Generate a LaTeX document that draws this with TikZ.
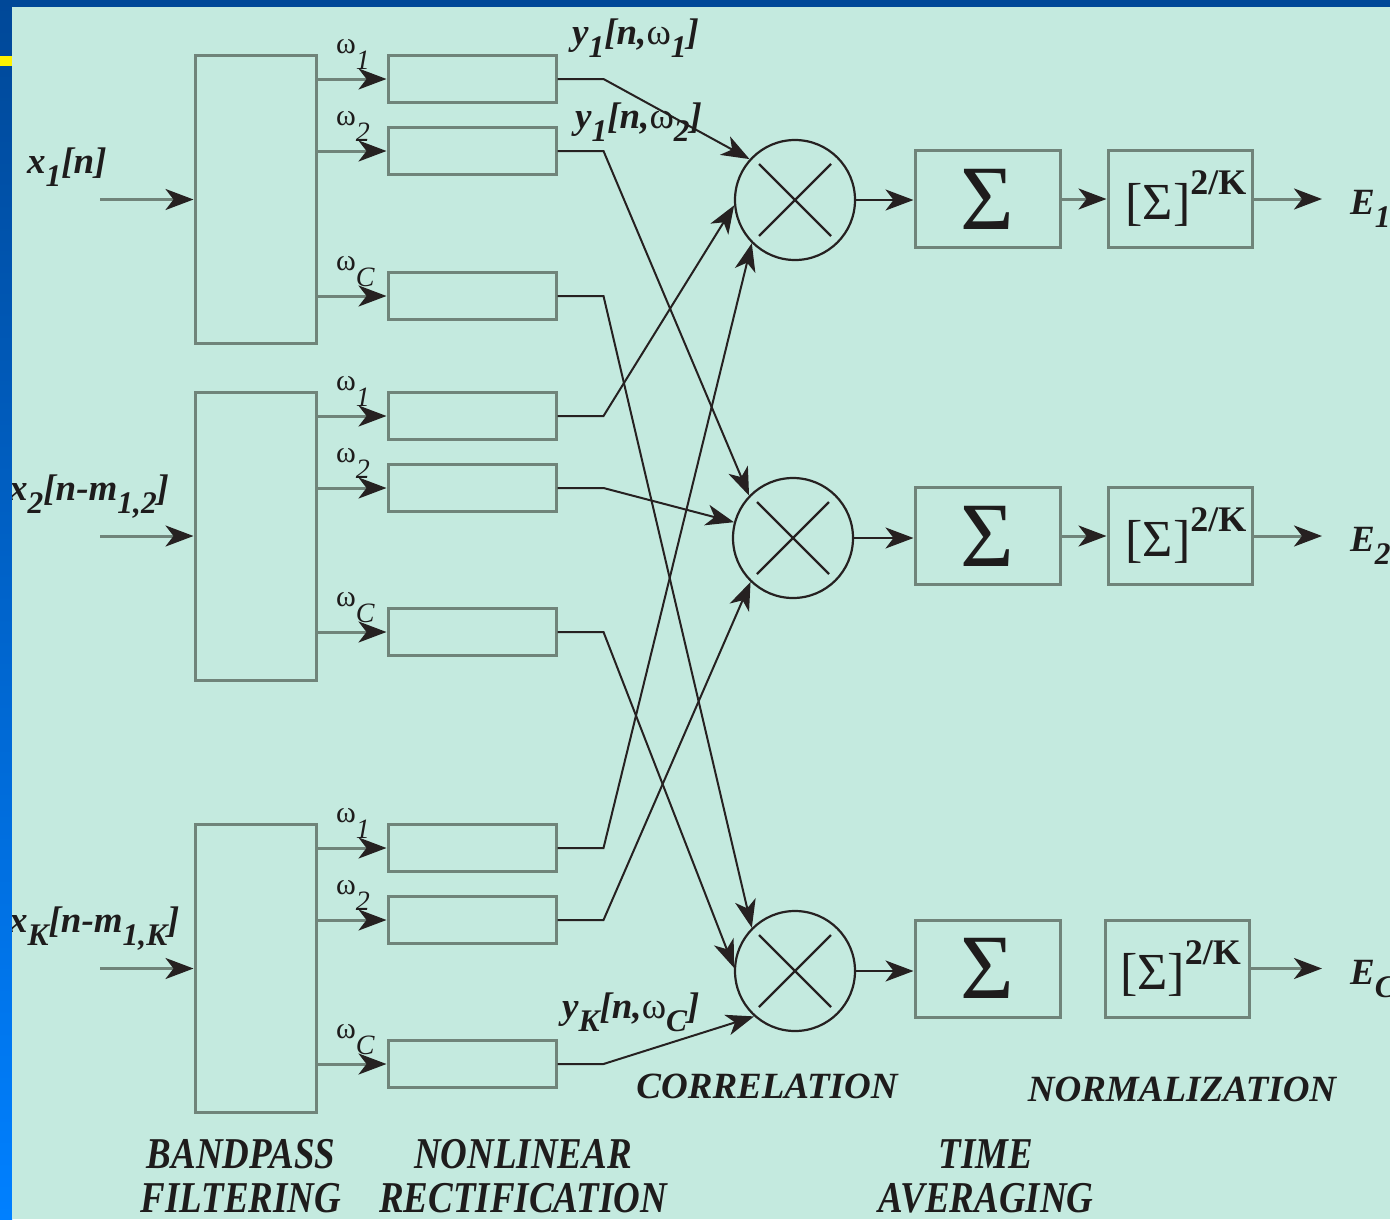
\documentclass[tikz,border=0pt]{standalone}
\usepackage{fontspec}
\setmainfont{Liberation Serif}
\usetikzlibrary{arrows.meta}
\definecolor{bg}{RGB}{196,234,223}
\definecolor{bx}{RGB}{112,132,122}
\definecolor{dk}{RGB}{38,33,33}
\definecolor{txt}{RGB}{30,28,28}
\definecolor{bluetop}{RGB}{0,72,152}
\definecolor{bluebot}{RGB}{0,128,255}
\definecolor{ybar}{RGB}{255,242,0}
\newcommand\lsub[1]{\raisebox{-0.36em}{\scalebox{0.85}{#1}}}
\newcommand\wsub[1]{\raisebox{-0.55em}{\fontsize{28}{28}\selectfont\itshape #1}}
\newcommand\omg{{\upshape\mdseries ω}}
\newcommand\condtxt[1]{\scalebox{0.84}[1]{#1}}
\begin{document}
\begin{tikzpicture}[x=1pt,y=-1pt,
  bank/.style={draw=bx, line width=3pt, minimum width=121pt, minimum height=288pt, inner sep=0pt},
  rectbox/.style={draw=bx, line width=3pt, minimum width=168pt, minimum height=47pt, inner sep=0pt},
  mult/.style={circle, draw=dk, line width=2.2pt, minimum size=120pt, inner sep=0pt,
    path picture={\draw[dk,line width=2.2pt] (path picture bounding box.center) +(-36pt,-36pt) -- +(36pt,36pt)
      (path picture bounding box.center) +(-36pt,36pt) -- +(36pt,-36pt);}},
  sumbox/.style={draw=bx, line width=3pt, minimum width=145pt, minimum height=97pt, inner sep=0pt,
    text=txt, font=\fontsize{92}{92}\selectfont},
  normbox/.style={draw=bx, line width=3pt, minimum width=144pt, minimum height=97pt, inner sep=0pt,
    text=txt, font=\fontsize{52}{52}\selectfont},
  garrow/.style={draw=bx, line width=3pt, -{Stealth[length=28pt,width=21pt,inset=8pt,color=dk]}},
  darrow/.style={draw=dk, line width=2.2pt, -{Stealth[length=28pt,width=21pt,inset=8pt,color=dk]}},
  conn/.style={draw=dk, line width=2pt, -{Stealth[length=28pt,width=21pt,inset=8pt,color=dk]}},
  lab/.style={inner sep=0pt, text=txt, font=\fontsize{37}{37}\selectfont\bfseries\itshape},
  wlab/.style={inner sep=0pt, text=txt, font=\fontsize{30}{30}\selectfont},
  capt/.style={inner sep=0pt, text=txt, anchor=base, font=\fontsize{37}{37}\selectfont\bfseries\itshape},
  capt2/.style={inner sep=0pt, text=txt, anchor=base, align=center, font=\fontsize{44}{44}\selectfont\bfseries\itshape}
]
\useasboundingbox (0,0) rectangle (1390,1219);
% frame
\shade[top color=bluetop, bottom color=bluebot] (0,0) rectangle (12,1219);
\fill[bluetop] (0,0) rectangle (1390,7);
\fill[fill=ybar] (0,56) rectangle (12,66);
\fill[bg] (12,7) rectangle (1390,1219);

% filter banks
\node[bank] (B1) at (255.5,199.5) {};
\node[bank] (B2) at (255.5,536) {};
\node[bank] (B3) at (255.5,968.5) {};

% inputs
\coordinate (i1) at (100,199.5);
\coordinate (i2) at (100,536);
\coordinate (i3) at (100,968.5);
\draw[garrow] (i1) -- (B1.west);
\draw[garrow] (i2) -- (B2.west);
\draw[garrow] (i3) -- (B3.west);

% rectifiers
\foreach \b/\r/\y in {1/1/79,1/2/151,1/C/296,2/1/416,2/2/488,2/C/632,3/1/848,3/2/920,3/C/1064} {
  \node[rectbox] (R\b\r) at (472,\y) {};
  \draw[garrow] (R\b\r.west -| B\b.east) -- (R\b\r.west);
  \node[wlab, anchor=south west] (w\b\r) at (336,\y-9) {ω\wsub{\r}};
}

% multipliers
\node[mult] (C1) at (795,200) {};
\node[mult] (C2) at (793,538) {};
\node[mult] (C3) at (795,971) {};

% connectors
\draw[conn] (R11.east) -- ++(46,0) -- (C1.138);
\draw[conn] (R12.east) -- ++(46,0) -- (C2.136);
\draw[conn] (R1C.east) -- ++(46,0) -- (C3.135);
\draw[conn] (R21.east) -- ++(46,0) -- (C1.185);
\draw[conn] (R22.east) -- ++(46,0) -- (C2.165);
\draw[conn] (R2C.east) -- ++(46,0) -- (C3.177);
\draw[conn] (R31.east) -- ++(46,0) -- (C1.225);
\draw[conn] (R32.east) -- ++(46,0) -- (C2.226);
\draw[conn] (R3C.east) -- ++(46,0) -- (C3.228);

\node[lab, anchor=base west] (ly11) at (572,44) {y\lsub{1}[n,\omg\lsub{1}]};
\node[lab, anchor=base west] (ly12) at (575,128) {y\lsub{1}[n,\omg\lsub{2}]};
\node[lab, anchor=base west] (lyK) at (562,1018) {y\lsub{K}[n,\omg\lsub{C}]};

% time averaging and normalization
\node[sumbox] (S1) at (987.5,199) {Σ};
\node[sumbox] (S2) at (987.5,536) {Σ};
\node[sumbox] (S3) at (987.5,968.5) {Σ};
\node[normbox] (N1) at (1180,199) {\hspace*{12pt}[Σ]\raisebox{25pt}{\fontsize{36}{36}\selectfont\bfseries 2/K}};
\node[normbox] (N2) at (1180,536) {\hspace*{12pt}[Σ]\raisebox{25pt}{\fontsize{36}{36}\selectfont\bfseries 2/K}};
\node[normbox] (N3) at (1177.5,968.5) {\hspace*{6pt}[Σ]\raisebox{25pt}{\fontsize{36}{36}\selectfont\bfseries 2/K}};

\draw[darrow] (C1.east) -- (C1.east -| S1.west);
\draw[darrow] (C2.east) -- (C2.east -| S2.west);
\draw[darrow] (C3.east) -- (C3.east -| S3.west);
\draw[garrow] (S1.east) -- (N1.west);
\draw[garrow] (S2.east) -- (N2.west);

\coordinate (o1) at (1322,199);
\coordinate (o2) at (1322,536);
\coordinate (o3) at (1322,968.5);
\draw[garrow] (N1.east) -- (o1);
\draw[garrow] (N2.east) -- (o2);
\draw[garrow] (N3.east) -- (o3);

% labels clipped to the panel
\begin{scope}
\clip (12,7) rectangle (1390,1219);
\node[lab, anchor=base west] (lx1) at (27,173) {x\lsub{1}[n]};
\node[lab, anchor=base west] (lx2) at (9,500) {x\lsub{2}[n-m\lsub{1,2}]};
\node[lab, anchor=base west] (lxK) at (9,932) {x\lsub{K}[n-m\lsub{1,K}]};
\node[lab, anchor=base west] (E1) at (1350,214) {E\lsub{1}};
\node[lab, anchor=base west] (E2) at (1350,551) {E\lsub{2}};
\node[lab, anchor=base west] (E3) at (1350,984) {E\lsub{C}};
\end{scope}

% captions
\node[capt] (capcor) at (767,1098) {CORRELATION};
\node[capt] (capnorm) at (1182,1101) {NORMALIZATION};
\node[capt2] (capbp) at (241,1212) {\condtxt{BANDPASS}\\\condtxt{FILTERING}};
\node[capt2] (capnl) at (523,1212) {\condtxt{NONLINEAR}\\\condtxt{RECTIFICATION}};
\node[capt2] (capta) at (986,1212) {\condtxt{TIME}\\\condtxt{AVERAGING}};
\end{tikzpicture}
\end{document}
